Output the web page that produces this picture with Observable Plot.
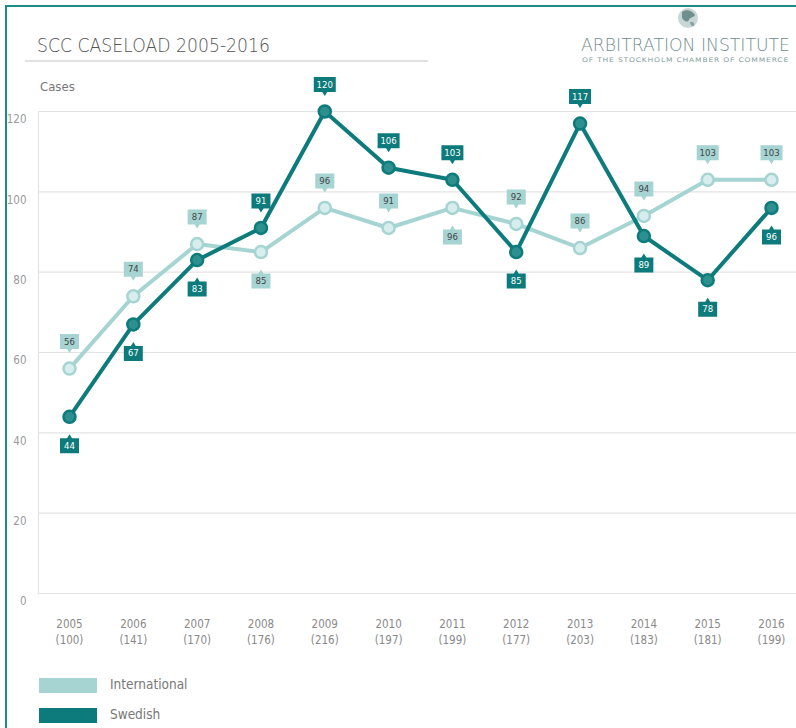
<!DOCTYPE html>
<html>
<head>
<meta charset="utf-8">
<script src="https://cdn.jsdelivr.net/npm/d3@7"></script>
<script src="https://cdn.jsdelivr.net/npm/@observablehq/plot@0.6"></script>
<style>
  html, body { margin: 0; padding: 0; background: #fff; }
  body { width: 796px; height: 728px; position: relative; overflow: hidden;
         font-family: "DejaVu Sans", sans-serif; font-stretch: condensed; }
  #border { position: absolute; left: 5px; top: 5px; width: 800px; height: 800px;
            border-left: 2px solid #1c8c86; border-top: 2px solid #1c8c86; }
  .fit { position: absolute; white-space: nowrap; transform-origin: 0 0; }
  #title { left: 37px; top: 34px; font-size: 19.5px; color: #555; font-weight: 200; }
  #titleline { position: absolute; left: 25px; top: 60px; width: 403px; height: 0; border-top: 2px solid #e2e2e2; }
  #logo1 { left: 581px; top: 35.5px; font-size: 18px; line-height: 18px; color: #6f8e8e; font-weight: 200; }
  #logo2 { left: 582px; top: 55.8px; font-size: 6.3px; line-height: 7px; color: #7f9d9d; letter-spacing: 0.6px; }
  #globe { position: absolute; left: 676px; top: 6px; }
  #cases { position: absolute; left: 40px; top: 79px; font-size: 13px; color: #777; }
  #chart { position: absolute; left: 0; top: 70px; }
  .leg { position: absolute; left: 39px; width: 58px; height: 15px; }
  .legt { position: absolute; left: 110px; font-size: 13.5px; color: #777; }
</style>
</head>
<body>
<div id="border"></div>
<div id="title" class="fit" data-w="233">SCC CASELOAD 2005-2016</div>
<div id="titleline"></div>
<svg id="globe" width="24" height="24" viewBox="0 0 24 24">
  <circle cx="12" cy="12" r="10" fill="#c9d6d6"/>
  <path d="M6 6 C10 3 16 4 19 9 C17 12 14 11 13 14 C11 17 8 15 6 12 Z" fill="#6f8e8e"/>
  <path d="M14 16 C17 15 19 17 18 20 C16 21 14 19 14 16 Z" fill="#8aa3a3"/>
</svg>
<div id="logo1" class="fit" data-w="209">ARBITRATION INSTITUTE</div>
<div id="logo2" class="fit" data-w="207">OF THE STOCKHOLM CHAMBER OF COMMERCE</div>
<div id="cases">Cases</div>
<div id="chart"></div>
<div class="leg" style="top:678px;background:#a5d4d2"></div>
<div class="legt" style="top:676px">International</div>
<div class="leg" style="top:708px;background:#0d7b7b"></div>
<div class="legt" style="top:706px">Swedish</div>
<script>
// ---- data ----
const years = [2005, 2006, 2007, 2008, 2009, 2010, 2011, 2012, 2013, 2014, 2015, 2016];
const totals = [100, 141, 170, 176, 216, 197, 199, 177, 203, 183, 181, 199];
const international = [56, 74, 87, 85, 96, 91, 96, 92, 86, 94, 103, 103];
const swedish = [44, 67, 83, 91, 120, 106, 103, 85, 117, 89, 78, 96];
// label side: "a" = above the point, "b" = below
const internationalSide = ["a", "a", "a", "b", "a", "a", "b", "a", "a", "a", "a", "a"];
const swedishSide = ["b", "b", "b", "a", "a", "a", "a", "b", "a", "b", "b", "b"];
const yTicks = [0, 20, 40, 60, 80, 100, 120];

const intlColor = "#a5d4d2", intlDot = "#d8eded";
const sweColor = "#0d7b7b", sweDot = "#2e8f8f";

const intl = years.map((y, i) => ({year: y, value: international[i], side: internationalSide[i]}));
const swe = years.map((y, i) => ({year: y, value: swedish[i], side: swedishSide[i]}));
const xLabels = years.map((y, i) => ({year: y, label: `${y}\n(${totals[i]})`}));

function callout(w, h, up) {
  return {
    draw(ctx) {
      const x0 = -w / 2, x1 = w / 2, y0 = -h / 2, y1 = h / 2;
      ctx.moveTo(x0, y0);
      if (up) { ctx.lineTo(-2.5, y0); ctx.lineTo(0, y0 - 4); ctx.lineTo(2.5, y0); }
      ctx.lineTo(x1, y0);
      ctx.lineTo(x1, y1);
      if (!up) { ctx.lineTo(2.5, y1); ctx.lineTo(0, y1 + 4); ctx.lineTo(-2.5, y1); }
      ctx.lineTo(x0, y1);
      ctx.closePath();
    }
  };
}
const DA = -27, DB = 29;

function labelMarks(data, bg, fg) {
  const marks = [];
  for (const [side, dy, up] of [["a", DA, false], ["b", DB, true]]) {
    for (const w of [19, 22]) {
      const sub = data.filter(d => d.side === side && (String(d.value).length > 2) === (w === 22));
      marks.push(Plot.dot(sub, {x: "year", y: "value", dy, symbol: callout(w, 15, up), r: 5, fill: bg, stroke: "none"}));
    }
    const sub = data.filter(d => d.side === side);
    marks.push(Plot.text(sub, {x: "year", y: "value", dy, text: d => String(d.value), fill: fg, fontSize: 9.5}));
  }
  return marks;
}

const chart = Plot.plot({
  width: 796,
  height: 590,
  marginLeft: 38,
  marginRight: 0,
  marginTop: 41,
  marginBottom: 67,
  style: {fontFamily: '"DejaVu Sans", sans-serif', fontStretch: "condensed", background: "transparent"},
  x: {type: "linear", domain: [2005, 2016], range: [69, 771], axis: null},
  y: {domain: [0, 120], axis: null},
  marks: [
    Plot.ruleY(yTicks, {stroke: "#e3e3e3", strokeWidth: 1.2}),
    Plot.frame({anchor: "left", stroke: "#e3e3e3", strokeWidth: 1.2}),
    Plot.axisY(yTicks, {anchor: "left", tickSize: 0, tickPadding: 12, dy: 8, fill: "#9a9a9a", fontSize: 11.5, label: null}),
    Plot.text(xLabels, {x: "year", y: 0, text: "label", dy: 37, lineHeight: 1.38, fill: "#8a8a8a", fontSize: 11.5}),
    Plot.line(intl, {x: "year", y: "value", stroke: intlColor, strokeWidth: 4}),
    Plot.dot(intl, {x: "year", y: "value", r: 6, fill: intlDot, stroke: intlColor, strokeWidth: 2.5}),
    Plot.line(swe, {x: "year", y: "value", stroke: sweColor, strokeWidth: 4}),
    Plot.dot(swe, {x: "year", y: "value", r: 6, fill: sweDot, stroke: sweColor, strokeWidth: 2.5}),
    ...labelMarks(intl, intlColor, "#444"),
    ...labelMarks(swe, sweColor, "#fff")
  ]
});
document.getElementById("chart").appendChild(chart);

// fit header texts to their widths in the reference
document.querySelectorAll(".fit").forEach(el => {
  const w = el.getBoundingClientRect().width;
  const target = +el.dataset.w;
  if (w > 0) el.style.transform = `scaleX(${target / w})`;
});
</script>
</body>
</html>
